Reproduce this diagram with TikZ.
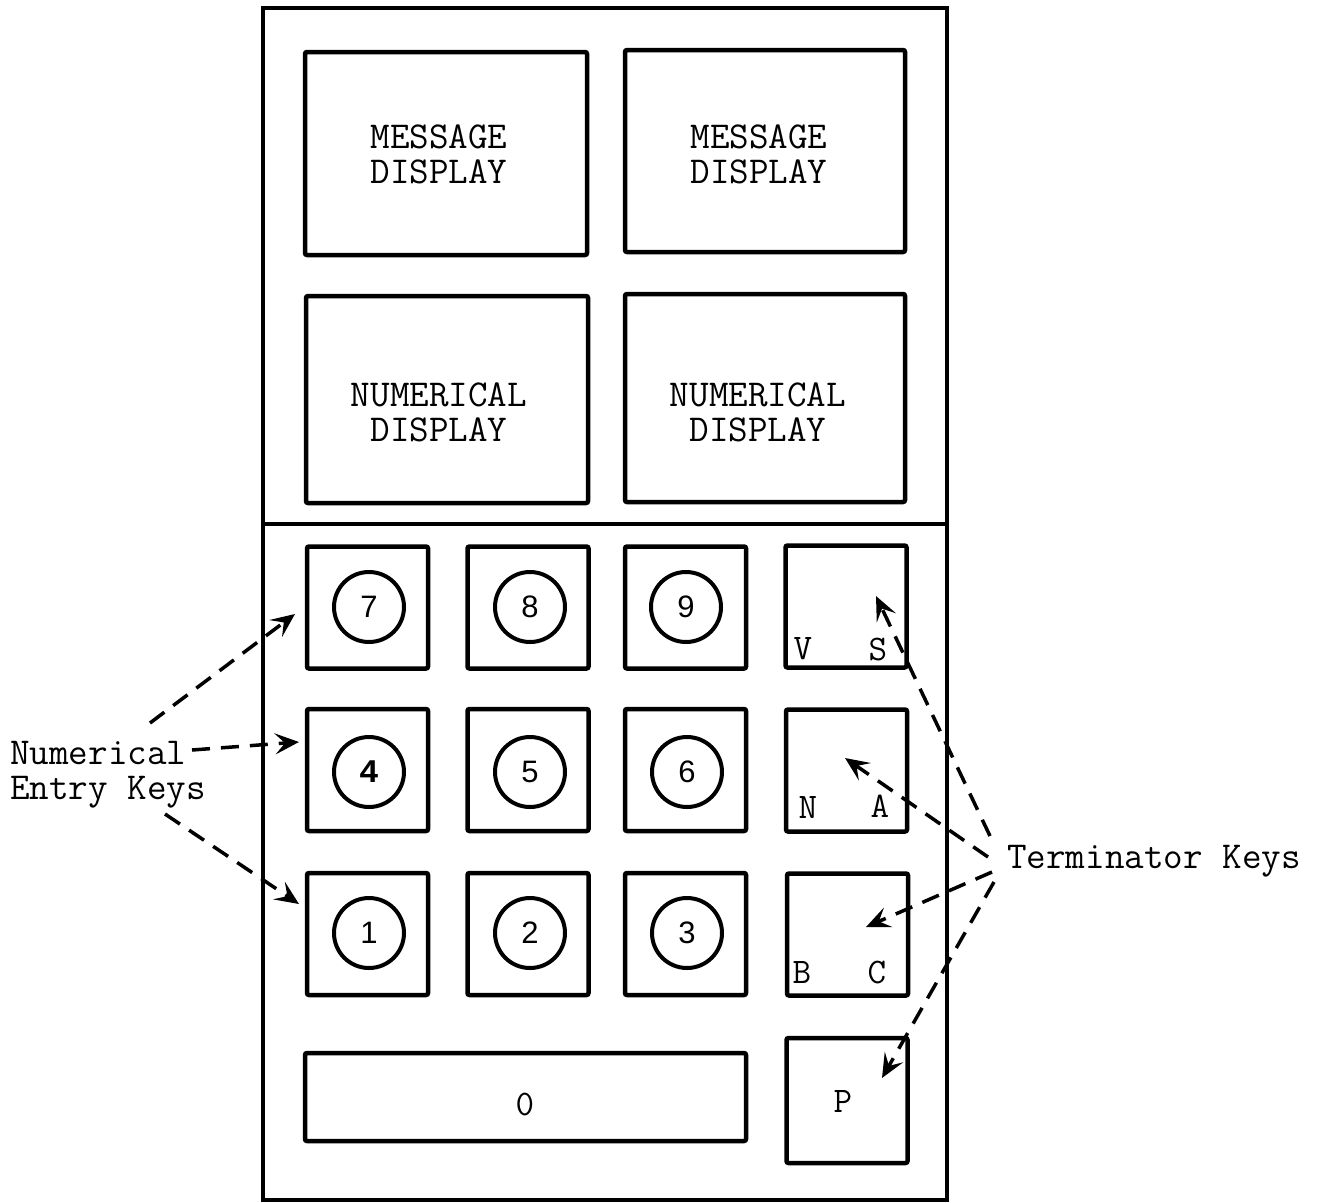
\documentclass[tikz,border=0pt]{standalone}
\usepackage{fontspec}
\newfontfamily\digitfont{Liberation Sans}
\newfontfamily\boldmono{Liberation Mono}
\usetikzlibrary{arrows.meta}
\begin{document}
\begin{tikzpicture}[x=1pt,y=-1pt,
  frame/.style={line width=3.5pt},
  panel/.style={draw,line width=4.5pt,rounded corners=2pt,inner sep=0pt},
  ptext/.style={align=center,font=\ttfamily\fontsize{38}{35}\selectfont,inner sep=0pt},
  keybox/.style={draw,line width=4.5pt,rounded corners=2pt,minimum width=121pt,minimum height=122pt,inner sep=0pt},
  knob/.style={draw,circle,line width=4pt,minimum size=70pt,inner sep=0pt,font=\digitfont\fontsize{31}{31}\selectfont},
  lbl/.style={font=\ttfamily\fontsize{36}{36}\selectfont,inner sep=0pt},
  ann/.style={font=\ttfamily\fontsize{38}{35}\selectfont,align=left,inner sep=0pt},
  ptr/.style={line width=3.5pt,dash pattern=on 18pt off 11pt,-{Stealth[length=24pt,width=21pt,inset=10pt]}}]
\useasboundingbox (0,0) rectangle (1325,1202);
% outer frame
\draw[frame] (263,8) rectangle (947,1200);
\draw[frame] (263,524) -- (947,524);
% displays
\node[panel,minimum width=282pt,minimum height=203pt] (md1) at (446,153.5) {};
\node[panel,minimum width=280pt,minimum height=202pt] (md2) at (765,151) {};
\node[panel,minimum width=282pt,minimum height=207pt] (nd1) at (447,399.5) {};
\node[panel,minimum width=280pt,minimum height=208pt] (nd2) at (765,398) {};
\node[ptext] (md1t) at (439,154) {MESSAGE\\DISPLAY};
\node[ptext] (md2t) at (759,154) {MESSAGE\\DISPLAY};
\node[ptext] (nd1t) at (439,412) {NUMERICAL\\DISPLAY};
\node[ptext] (nd2t) at (758,412) {NUMERICAL\\DISPLAY};
% numeric keys
\node[keybox] (k7) at (367.5,607.5) {};
\node[keybox] (k8) at (528,607.5) {};
\node[keybox] (k9) at (685.5,607.5) {};
\node[keybox] (k4) at (367.5,770) {};
\node[keybox] (k5) at (528,770) {};
\node[keybox] (k6) at (685.5,770) {};
\node[keybox] (k1) at (367.5,934) {};
\node[keybox] (k2) at (528,934) {};
\node[keybox] (k3) at (685.5,934) {};
\node[knob] (c7) at (369,607) {7};
\node[knob] (c8) at (530,607) {8};
\node[knob] (c9) at (686,607) {9};
\node[knob,font=\boldmono\bfseries\fontsize{33}{33}\selectfont] (c4) at (369,772) {4};
\node[knob] (c5) at (530,772) {5};
\node[knob] (c6) at (687,772) {6};
\node[knob] (c1) at (369,933) {1};
\node[knob] (c2) at (530,933) {2};
\node[knob] (c3) at (687,933) {3};
% terminator keys
\node[keybox] (kvs) at (846,606.5) {};
\node[keybox] (kna) at (846.5,770.5) {};
\node[keybox] (kbc) at (847.5,934.5) {};
\node[keybox,minimum height=125pt] (kp) at (847,1100.5) {};
\node[lbl] (tv) at (803,649) {V};
\node[lbl] (ts) at (878,649) {S};
\node[lbl] (tn) at (808,807) {N};
\node[lbl] (ta) at (880,806) {A};
\node[lbl] (tb) at (802,972) {B};
\node[lbl] (tc) at (877,972) {C};
\node[lbl] (tp) at (843,1101) {P};
% zero key
\node[panel,minimum width=441pt,minimum height=88pt] (k0) at (525.5,1097) {};
\node[lbl] (t0) at (525,1104) {0};
% annotations
\node[ann,anchor=west] (nek) at (10,775) {Numerical\\Entry Keys};
\node[ann,anchor=base west] (tk) at (1007,868) {Terminator Keys};
% pointer ends
\coordinate (a1s) at (150,723);
\coordinate (a1e) at (295,614);
\coordinate (a2s) at (192,750);
\coordinate (a2e) at (299,742);
\coordinate (a3s) at (165,814);
\coordinate (a3e) at (299,904);
\coordinate (b1s) at (990,836);
\coordinate (b1e) at (876,596);
\coordinate (b2s) at (988,857);
\coordinate (b2e) at (845,758);
\coordinate (b3s) at (992,872);
\coordinate (b3e) at (866,927);
\coordinate (b4s) at (994,882);
\coordinate (b4e) at (882,1078);
\draw[ptr] (a1s) -- (a1e);
\draw[ptr] (a2s) -- (a2e);
\draw[ptr] (a3s) -- (a3e);
\draw[ptr] (b1s) -- (b1e);
\draw[ptr] (b2s) -- (b2e);
\draw[ptr] (b3s) -- (b3e);
\draw[ptr] (b4s) -- (b4e);
\end{tikzpicture}
\end{document}
